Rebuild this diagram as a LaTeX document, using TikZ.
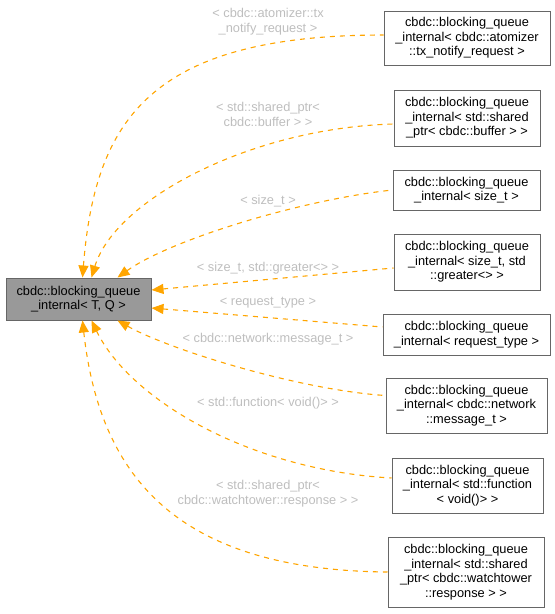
\documentclass[tikz,border=0pt]{standalone}
\usepackage{fontspec}
\setmainfont{Liberation Sans}
\usetikzlibrary{arrows.meta}
\definecolor{edgeor}{HTML}{FFA500}
\definecolor{lblgrey}{HTML}{BEBEBE}
\definecolor{boxline}{HTML}{666666}
\definecolor{boxfill}{HTML}{999999}
\tikzset{
  cls/.style={draw=boxline, line width=1pt, fill=white, inner sep=0pt, align=center,
    font=\fontsize{12.8}{14.5}\selectfont, text=black},
  edgeline/.style={draw=edgeor, line width=1.1pt, dash pattern=on 5pt off 5pt,
    {Triangle[length=12pt,width=10pt]}-},
  lbl/.style={text=lblgrey, align=center, inner sep=0pt, font=\fontsize{12.8}{15}\selectfont}
}
\begin{document}
\begin{tikzpicture}[x=1pt,y=-1pt]
\useasboundingbox (0,0) rectangle (555,614);
\node[cls, fill=boxfill, minimum width=145pt, minimum height=42pt] (L) at (78.5,299) {cbdc::blocking\_queue\\\_internal< T, Q >};
\node[cls, minimum width=166pt, minimum height=54pt] (R1) at (467,38) {cbdc::blocking\_queue\\\_internal< cbdc::atomizer\\::tx\_notify\_request >};
\node[cls, minimum width=146pt, minimum height=56pt] (R2) at (467,118) {cbdc::blocking\_queue\\\_internal< std::shared\\\_ptr< cbdc::buffer > >};
\node[cls, minimum width=147pt, minimum height=40pt] (R3) at (466.5,190) {cbdc::blocking\_queue\\\_internal< size\_t >};
\node[cls, minimum width=146pt, minimum height=56pt] (R4) at (467,262) {cbdc::blocking\_queue\\\_internal< size\_t, std\\::greater<> >};
\node[cls, minimum width=167pt, minimum height=41pt] (R5) at (466.5,334.5) {cbdc::blocking\_queue\\\_internal< request\_type >};
\node[cls, minimum width=161pt, minimum height=55pt] (R6) at (466.5,405.5) {cbdc::blocking\_queue\\\_internal< cbdc::network\\::message\_t >};
\node[cls, minimum width=151pt, minimum height=55pt] (R7) at (467.5,485.5) {cbdc::blocking\_queue\\\_internal< std::function\\< void()> >};
\node[cls, minimum width=156pt, minimum height=70pt] (R8) at (466,572) {cbdc::blocking\_queue\\\_internal< std::shared\\\_ptr< cbdc::watchtower\\::response > >};

\draw[edgeline] ([xshift=77pt]L.north west) .. controls (95,120) and (150,35) .. ([yshift=3pt]R1.west);
\draw[edgeline] ([xshift=86pt]L.north west) .. controls (115,200) and (250,128) .. ([yshift=-6pt]R2.west);
\draw[edgeline] ([xshift=112pt]L.north west) .. controls (170,240) and (300,200) .. (R3.west);
\draw[edgeline] ([yshift=9pt]L.east) -- ([yshift=-6pt]R4.west);
\draw[edgeline] ([yshift=-9pt]L.east) -- ([yshift=7.5pt]R5.west);
\draw[edgeline] ([xshift=112pt]L.south west) .. controls (170,350) and (300,390) .. ([yshift=10pt]R6.west);
\draw[edgeline] ([xshift=86pt]L.south west) .. controls (130,400) and (250,470) .. ([yshift=7.5pt]R7.west);
\draw[edgeline] ([xshift=77pt]L.south west) .. controls (100,480) and (180,570) .. (R8.west);

\node[lbl] (l1) at (268,22) {< cbdc::atomizer::tx\\\_notify\_request >};
\node[lbl] (l2) at (268,114) {< std::shared\_ptr<\\cbdc::buffer > >};
\node[lbl] (l3) at (268,201) {< size\_t >};
\node[lbl] (l4) at (268,268) {< size\_t, std::greater<> >};
\node[lbl] (l5) at (268,303) {< request\_type >};
\node[lbl] (l6) at (268,339) {< cbdc::network::message\_t >};
\node[lbl] (l7) at (268,403) {< std::function< void()> >};
\node[lbl] (l8) at (268,494) {< std::shared\_ptr<\\cbdc::watchtower::response > >};
\end{tikzpicture}
\end{document}
